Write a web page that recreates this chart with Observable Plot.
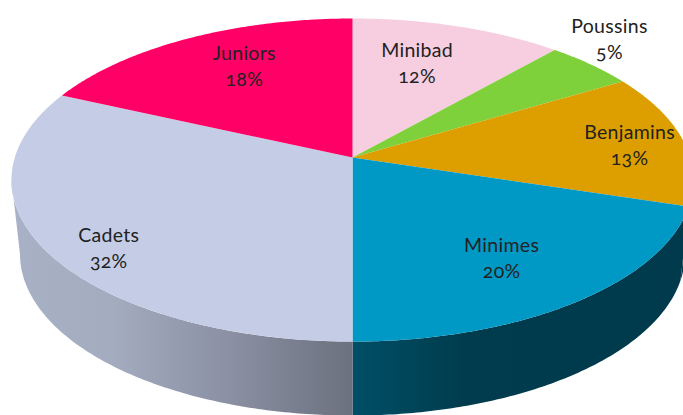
<!DOCTYPE html>
<html>
<head>
<meta charset="utf-8">
<style>
html,body{margin:0;padding:0;background:#fff;overflow:hidden}
svg{display:block}
</style>
<script src="https://cdn.jsdelivr.net/npm/d3@7"></script>
<script src="https://cdn.jsdelivr.net/npm/@observablehq/plot@0.6"></script>
</head>
<body>
<script>
// Data
const categories = ["Minibad", "Poussins", "Benjamins", "Minimes", "Cadets", "Juniors"];
const shares = [11.5, 4.9, 13.4, 20.2, 31.8, 18.2];
const percentLabels = ["12%", "5%", "13%", "20%", "32%", "18%"];
const topColors = ["#f7cee0", "#7fd13b", "#dd9f00", "#0099c6", "#c5cde6", "#ff0066"];
const wallPaints = ["#94708a", "#4d7f22", "#003a4c", "url(#wallMinimes)", "url(#wallCadets)", "#99003d"];

// Layout of the tilted disc (a perspective view of a unit circle)
const W = 683, H = 415;
const apex = [352, 157], spreadX = 337.7, spreadY = 158.4, tilt = 0.1395;
const wallDrop = 74, wallShrink = 0.975;
const frontFrom = 98, frontTo = 262; // silhouette angles of the disc
const project = (deg, r = 1) => {
  const t = deg * Math.PI / 180, X = r * Math.sin(t), Y = r * Math.cos(t), w = 1 + tilt * Y;
  return [apex[0] + spreadX * X / w, apex[1] - spreadY * Y / w];
};
const projectBase = (deg) => {
  const [x, y] = project(deg);
  return [apex[0] + (x - apex[0]) * wallShrink, y + wallDrop];
};
// label placement: radial fraction and pixel nudge per slice
const labelRadius = [0.7, 1.1, 0.85, 0.7, 0.8, 0.7];
const labelNudge = [[-12, -1], [-3, -18], [-4, 2], [-3, 2], [-2, 16], [10, -7]];

let cum = 0;
const slices = categories.map((name, i) => {
  const start = cum / 100 * 360;
  cum += shares[i];
  const end = cum / 100 * 360;
  return {name, i, start, end, mid: (start + end) / 2};
});

const arcAngles = (a, b) => d3.range(0, 121).map((k) => a + (b - a) * k / 120);

const topPoints = slices.flatMap((s) => [
  {name: s.name, color: topColors[s.i], p: apex},
  ...arcAngles(s.start, s.end).map((a) => ({name: s.name, color: topColors[s.i], p: project(a)}))
]);

const wallPoints = slices.flatMap((s) => {
  const a = Math.max(s.start, frontFrom), b = Math.min(s.end, frontTo);
  if (b <= a) return [];
  const angles = arcAngles(a, b);
  return [
    ...angles.map((t) => ({name: s.name, paint: wallPaints[s.i], p: project(t)})),
    ...angles.slice().reverse().map((t) => ({name: s.name, paint: wallPaints[s.i], p: projectBase(t)}))
  ];
});

const labels = slices.map((s) => {
  const [x, y] = project(s.mid, labelRadius[s.i]);
  return {x: x + labelNudge[s.i][0], y: y + labelNudge[s.i][1], text: `${s.name}\n${percentLabels[s.i]}`};
});

const gradients = () => {
  const ns = "http://www.w3.org/2000/svg";
  const defs = document.createElementNS(ns, "defs");
  const make = (id, stops) => {
    const g = document.createElementNS(ns, "linearGradient");
    g.setAttribute("id", id);
    stops.forEach(([o, c]) => {
      const st = document.createElementNS(ns, "stop");
      st.setAttribute("offset", o);
      st.setAttribute("stop-color", c);
      g.appendChild(st);
    });
    defs.appendChild(g);
  };
  make("wallCadets", [[0, "#a9b1c6"], [0.3, "#a3abbf"], [0.65, "#8a8fa2"], [1, "#6c717f"]]);
  make("wallMinimes", [[0, "#004f66"], [0.33, "#003c4e"], [1, "#003a4c"]]);
  return defs;
};

const chart = Plot.plot({
  width: W,
  height: H,
  margin: 0,
  x: {domain: [0, W], range: [0, W], axis: null},
  y: {domain: [0, H], range: [0, H], axis: null},
  color: {type: "identity"},
  style: {background: "#fff"},
  marks: [
    gradients,
    Plot.line(wallPoints, {x: (d) => d.p[0], y: (d) => d.p[1], z: "name", fill: "paint", stroke: "none"}),
    Plot.line(topPoints, {x: (d) => d.p[0], y: (d) => d.p[1], z: "name", fill: "color", stroke: "none"}),
    Plot.text(labels, {
      x: "x", y: "y", text: "text",
      fontFamily: "Lato", fontSize: 19.5, lineHeight: 1.33,
      fill: "#222", textAnchor: "middle"
    })
  ]
});
chart.querySelectorAll("text").forEach((t) => {
  t.style.fontVariantNumeric = "oldstyle-nums";
  t.style.letterSpacing = "0.3px";
});
document.body.appendChild(chart);
</script>
</body>
</html>
